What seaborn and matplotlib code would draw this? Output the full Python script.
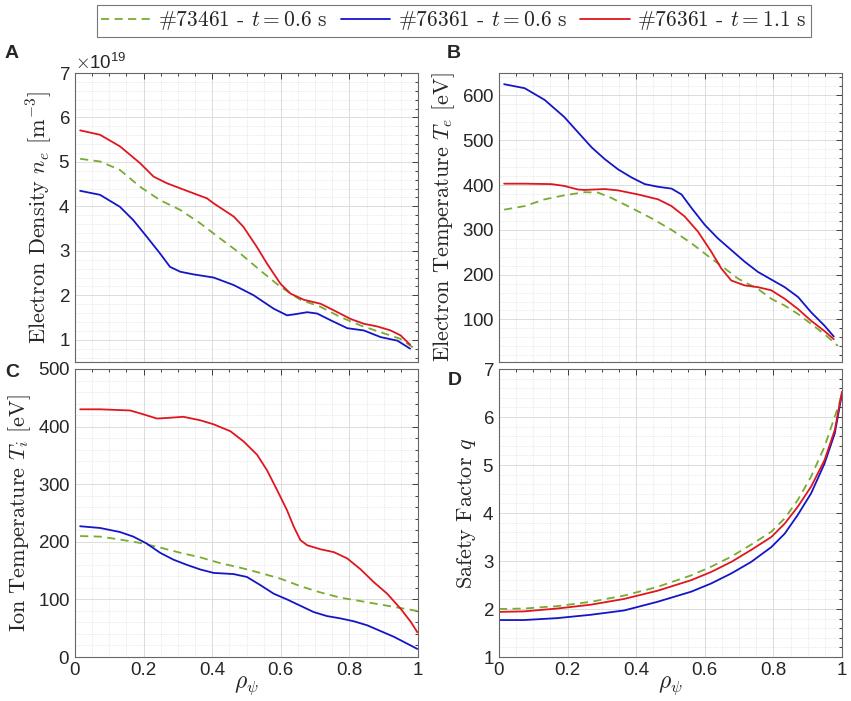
import numpy as np
import matplotlib
matplotlib.use("Agg")
import matplotlib.pyplot as plt
import seaborn as sns
from matplotlib.ticker import MultipleLocator, ScalarFormatter
from matplotlib.lines import Line2D

# ---- data (rho_psi on x) ----
# A: electron density, in units of 1e19 m^-3
ne_x_73461 = [0.015, 0.073, 0.131, 0.19, 0.248, 0.307, 0.365, 0.423, 0.482, 0.54,
              0.599, 0.657, 0.716, 0.774, 0.833, 0.891, 0.949, 0.998]
ne_73461 = [5.07, 5.01, 4.82, 4.44, 4.14, 3.92, 3.62, 3.28, 2.94, 2.56,
            2.19, 1.90, 1.74, 1.51, 1.32, 1.17, 1.02, 0.76]
ne_x_76361a = [0.015, 0.073, 0.131, 0.17, 0.209, 0.248, 0.277, 0.307, 0.346, 0.404,
               0.463, 0.521, 0.579, 0.618, 0.638, 0.677, 0.706, 0.745, 0.794, 0.842,
               0.891, 0.94, 0.977]
ne_76361a = [4.35, 4.26, 3.99, 3.69, 3.32, 2.94, 2.64, 2.53, 2.47, 2.40,
             2.23, 2.00, 1.70, 1.55, 1.57, 1.62, 1.59, 1.44, 1.26, 1.21,
             1.06, 0.98, 0.80]
ne_x_76361b = [0.015, 0.073, 0.131, 0.19, 0.229, 0.268, 0.326, 0.385, 0.404, 0.463,
               0.491, 0.53, 0.56, 0.599, 0.628, 0.667, 0.716, 0.755, 0.803, 0.842,
               0.881, 0.92, 0.949, 0.977]
ne_76361b = [5.71, 5.61, 5.35, 4.97, 4.67, 4.52, 4.35, 4.18, 4.07, 3.77,
             3.54, 3.09, 2.71, 2.26, 2.04, 1.90, 1.81, 1.66, 1.47, 1.36,
             1.30, 1.21, 1.10, 0.89]

# B: electron temperature [eV]
te_x_73461 = [0.015, 0.075, 0.133, 0.19, 0.25, 0.289, 0.328, 0.386, 0.444, 0.503,
              0.561, 0.619, 0.658, 0.697, 0.755, 0.794, 0.833, 0.872, 0.91, 0.949, 0.988]
te_73461 = [345, 353, 368, 377, 384, 383, 371, 349, 326, 300,
            270, 236, 214, 191, 168, 146, 131, 112, 90, 67, 41]
te_x_76361a = [0.015, 0.075, 0.133, 0.19, 0.23, 0.27, 0.308, 0.347, 0.386, 0.425,
               0.464, 0.503, 0.532, 0.561, 0.6, 0.638, 0.677, 0.716, 0.755, 0.794,
               0.833, 0.872, 0.91, 0.949, 0.976]
te_76361a = [625, 616, 590, 552, 518, 484, 458, 435, 417, 402,
             396, 392, 379, 349, 311, 281, 255, 229, 206, 189,
             172, 150, 116, 86, 62]
te_x_76361b = [0.015, 0.075, 0.153, 0.19, 0.23, 0.25, 0.308, 0.347, 0.405, 0.464,
               0.503, 0.541, 0.58, 0.619, 0.648, 0.677, 0.716, 0.755, 0.794, 0.833,
               0.872, 0.91, 0.949, 0.976]
te_76361b = [403, 403, 402, 398, 390, 389, 391, 388, 379, 368,
             353, 330, 296, 251, 214, 187, 176, 172, 165, 146,
             123, 97, 74, 56]

# C: ion temperature [eV]
ti_x_73461 = [0.015, 0.073, 0.131, 0.19, 0.248, 0.307, 0.365, 0.423, 0.482, 0.54,
              0.599, 0.657, 0.716, 0.774, 0.833, 0.891, 0.949, 0.998]
ti_73461 = [210, 209, 204, 198, 190, 181, 173, 163, 155, 146,
            136, 123, 112, 103, 97, 91, 85, 80]
ti_x_76361a = [0.015, 0.073, 0.131, 0.17, 0.209, 0.248, 0.287, 0.326, 0.365, 0.404,
               0.462, 0.501, 0.54, 0.579, 0.618, 0.657, 0.696, 0.735, 0.774, 0.813,
               0.852, 0.891, 0.93, 0.969, 0.998]
ti_76361a = [227, 224, 217, 209, 197, 181, 169, 160, 152, 146,
             144, 139, 125, 110, 100, 89, 78, 71, 67, 62,
             55, 45, 35, 23, 14]
ti_x_76361b = [0.015, 0.073, 0.161, 0.19, 0.239, 0.268, 0.316, 0.365, 0.404, 0.453,
               0.492, 0.531, 0.56, 0.589, 0.618, 0.638, 0.657, 0.677, 0.716, 0.755,
               0.794, 0.833, 0.871, 0.91, 0.949, 0.979, 0.998]
ti_76361b = [430, 430, 428, 423, 414, 415, 417, 411, 404, 392,
             374, 351, 324, 290, 255, 226, 203, 194, 187, 182,
             171, 152, 130, 110, 84, 61, 43]

# D: safety factor q
q_x = [0.0, 0.073, 0.17, 0.268, 0.365, 0.462, 0.56, 0.618, 0.677, 0.735,
       0.794, 0.833, 0.871, 0.91, 0.949, 0.979, 1.0]
q_73461 = [2.00, 2.01, 2.06, 2.15, 2.28, 2.46, 2.70, 2.88, 3.09, 3.34,
           3.61, 3.89, 4.27, 4.76, 5.38, 6.01, 6.45]
q_76361a = [1.77, 1.77, 1.81, 1.88, 1.97, 2.15, 2.36, 2.53, 2.74, 2.98,
            3.29, 3.57, 3.96, 4.41, 5.03, 5.66, 6.49]
q_76361b = [1.94, 1.95, 2.01, 2.09, 2.21, 2.38, 2.60, 2.77, 2.98, 3.23,
            3.50, 3.78, 4.13, 4.55, 5.10, 5.73, 6.53]

labels = [r"#73461 - $t = 0.6$ s", r"#76361 - $t = 0.6$ s", r"#76361 - $t = 1.1$ s"]
colors = ["#77AC30", "#1515C8", "#E0161E"]
styles = [(0, (4.5, 3)), "-", "-"]

sns.set_style("white")
plt.rcParams["font.family"] = ["Liberation Sans", "DejaVu Sans"]
plt.rcParams["mathtext.fontset"] = "cm"
plt.rcParams["axes.formatter.use_mathtext"] = True

serif = "cmr10"

fig = plt.figure(figsize=(8.51, 7.01), dpi=100)
W, H = 851, 701


def box(x0, y0, x1, y1):
    return [x0 / W, 1 - y1 / H, (x1 - x0) / W, (y1 - y0) / H]


axA = fig.add_axes(box(75, 73, 418, 362))
axB = fig.add_axes(box(499, 73, 842, 362))
axC = fig.add_axes(box(75, 369, 418, 657))
axD = fig.add_axes(box(499, 369, 842, 657))

panels = [
    (axA, [(ne_x_73461, np.array(ne_73461) * 1e19), (ne_x_76361a, np.array(ne_76361a) * 1e19),
           (ne_x_76361b, np.array(ne_76361b) * 1e19)],
     r"Electron Density $n_e$ $[\mathrm{m}^{-3}]$", (0.5e19, 7e19), 1e19, 0.2e19),
    (axB, [(te_x_73461, te_73461), (te_x_76361a, te_76361a), (te_x_76361b, te_76361b)],
     r"Electron Temperature $T_e$ $[\mathrm{eV}]$", (5, 650), 100, 20),
    (axC, [(ti_x_73461, ti_73461), (ti_x_76361a, ti_76361a), (ti_x_76361b, ti_76361b)],
     r"Ion Temperature $T_i$ $[\mathrm{eV}]$", (0, 500), 100, 20),
    (axD, [(q_x, q_73461), (q_x, q_76361a), (q_x, q_76361b)],
     r"Safety Factor $q$", (1, 7), 1, 0.2),
]

for ax, series, ylab, ylim, major, minor in panels:
    for (xs, ys), c, ls in zip(series, colors, styles):
        sns.lineplot(x=xs, y=ys, ax=ax, color=c, linestyle=ls, lw=1.3, legend=False)
    ax.set_xlim(0, 1)
    ax.set_ylim(*ylim)
    ax.xaxis.set_major_locator(MultipleLocator(0.2))
    ax.xaxis.set_minor_locator(MultipleLocator(0.05))
    ax.yaxis.set_major_locator(MultipleLocator(major))
    ax.yaxis.set_minor_locator(MultipleLocator(minor))
    ax.grid(True, which="major", color="#dcdcdc", lw=0.7, ls="-")
    ax.grid(True, which="minor", color="#d8d8d8", lw=0.5, ls=(0, (1, 1.5)))
    ax.set_axisbelow(True)
    ax.tick_params(which="both", direction="in", top=True, right=True,
                   labelsize=13.5, colors="#262626", width=0.6)
    ax.tick_params(which="major", length=4)
    ax.tick_params(which="minor", length=2)
    for sp in ax.spines.values():
        sp.set_color("#666666")
        sp.set_linewidth(0.8)
    ax.set_ylabel(ylab, fontfamily=serif, fontsize=16, color="#262626", labelpad=3)
    ax.set_xlabel("")

axB.set_yticks([100, 200, 300, 400, 500, 600])
axB.set_ylim(5, 650)

for ax in (axA, axB):
    ax.tick_params(labelbottom=False)

fmt = ScalarFormatter(useMathText=True)
axA.yaxis.set_major_formatter(fmt)
axA.yaxis.get_offset_text().set_fontsize(13.5)

for ax in (axC, axD):
    ax.set_xticks([0, 0.2, 0.4, 0.6, 0.8, 1.0])
    ax.set_xticklabels(["0", "0.2", "0.4", "0.6", "0.8", "1"])
    ax.set_xlabel(r"$\rho_\psi$", fontsize=17, color="#262626")
    ax.xaxis.set_label_coords(0.5, -0.06)

# panel letters
for txt, x, y in [("A", 5, 45), ("B", 447, 45), ("C", 5, 364), ("D", 448, 372)]:
    fig.text(x / W, 1 - y / H, txt, fontsize=14, fontweight="bold", va="top", ha="left")

handles = [Line2D([], [], color=c, ls=ls, lw=1.3) for c, ls in zip(colors, styles)]
leg = fig.legend(handles, labels, loc="upper center", bbox_to_anchor=(454 / W, 1 - 5 / H),
                 ncol=3, frameon=True, fancybox=False, edgecolor="#555555",
                 prop={"family": serif, "size": 15.5}, handlelength=2.3,
                 handletextpad=0.35, columnspacing=0.6, borderpad=0.2,
                 borderaxespad=0)
leg.get_frame().set_linewidth(0.8)

fig.savefig("out.png", dpi=100)
